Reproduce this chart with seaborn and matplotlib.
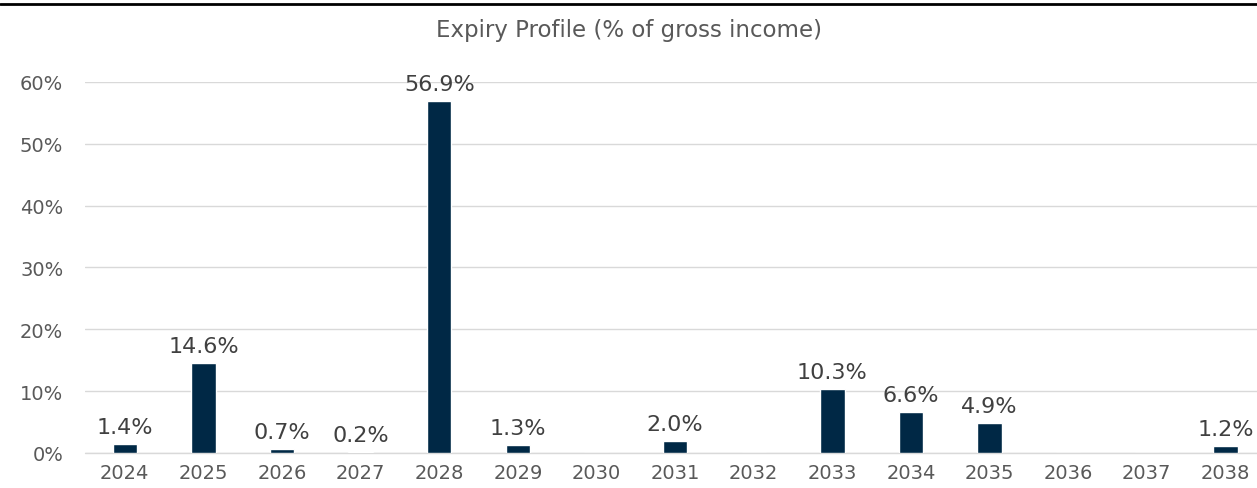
import matplotlib
matplotlib.use("Agg")
import matplotlib.pyplot as plt
import seaborn as sns
import pandas as pd
import numpy as np
from matplotlib.lines import Line2D
from matplotlib.ticker import PercentFormatter

years = ["2024", "2025", "2026", "2027", "2028", "2029", "2030", "2031",
         "2032", "2033", "2034", "2035", "2036", "2037", "2038"]
values = [1.4, 14.6, 0.7, 0.2, 56.9, 1.3, 0.0, 2.0,
          0.0, 10.3, 6.6, 4.9, 0.0, 0.0, 1.2]
title = "Expiry Profile (% of gross income)"

df = pd.DataFrame({"year": years, "value": values})

sns.set_theme(style="white")
plt.rcParams['font.family'] = ['DejaVu Sans']

fig = plt.figure(figsize=(12.57, 4.89), dpi=100)
ax = fig.add_axes([0.068, 0.0716, 0.935, 0.7587])

sns.barplot(data=df, x="year", y="value", color="#002845", width=0.31,
            saturation=1, ax=ax)

ax.set_ylim(0, 60)
ax.set_xlim(-0.5, 14.45)
ax.set_yticks(np.arange(0, 61, 10))
ax.yaxis.set_major_formatter(PercentFormatter(decimals=0))
ax.grid(axis="y", color="#d9d9d9", linewidth=1)
ax.axhline(0, color="#d9d9d9", linewidth=1, zorder=0.5, clip_on=False)
ax.set_axisbelow(True)
for s in ax.spines.values():
    s.set_visible(False)
ax.set_xlabel("")
ax.set_ylabel("")
ax.tick_params(axis="both", length=0, labelsize=14, colors="#595959")
ax.tick_params(axis="x", pad=7)
ax.tick_params(axis="y", pad=16)

labels = [f"{v:.1f}%" if v > 0 else "" for v in values]
ax.bar_label(ax.containers[0], labels=labels, padding=5, fontsize=16,
             color="#404040", clip_on=False)

fig.text(0.5, 0.937, title, ha="center", va="center", fontsize=16.5,
         color="#595959")
fig.add_artist(Line2D([0, 1], [0.989, 0.989], color="black", linewidth=2,
                      transform=fig.transFigure))

fig.savefig("out.png", dpi=100)
